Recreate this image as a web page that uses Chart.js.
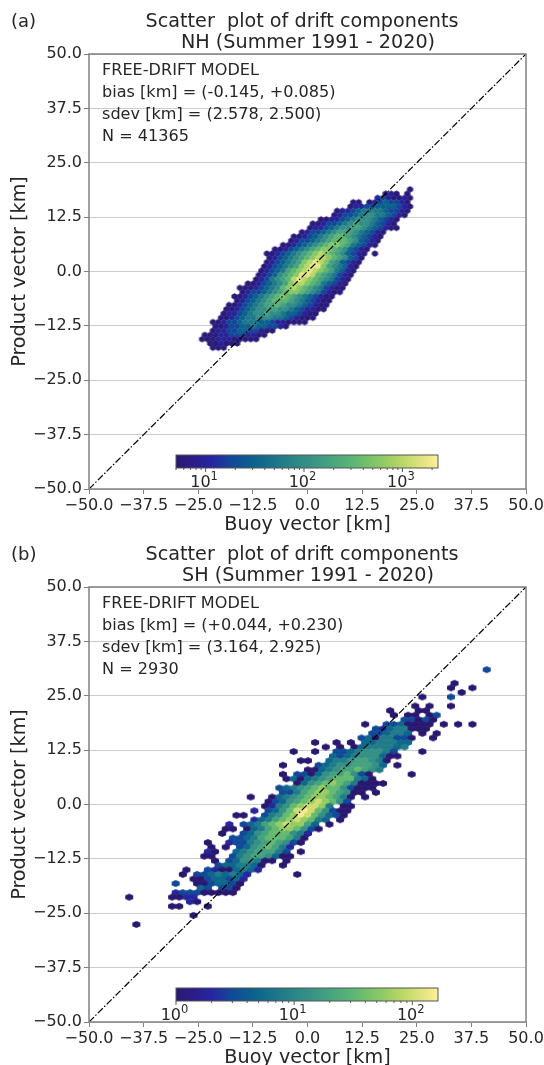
<!DOCTYPE html>
<html>
<head>
<meta charset="utf-8">
<style>
    html, body { margin: 0; background: #fff; overflow: hidden; height: 1065px; }
    canvas { position: absolute; left: 0; }
    #panelA { top: 0; }
    #panelB { top: 533px; }
</style>
<script src="https://cdn.jsdelivr.net/npm/chart.js@4"></script>
</head>
<body>
<canvas id="panelA" width="544" height="545"></canvas>
<canvas id="panelB" width="544" height="545"></canvas>
<script>
const axisTicks = [-50, -37.5, -25, -12.5, 0, 12.5, 25, 37.5, 50];
const diagonalValues = [-50, 50];

// panel a: first column of each hexbin row [km], then the counts along that row
const topRowA = 18.88;
const rowStepA = 0.984;
const colStepA = 1.2357;
const firstXA = [23.46, 17.89, 16.04, 10.48, 9.86, 6.77, 6.16, 3.07, 1.21, 0.59, -1.26, -3.11, -3.73, -5.58, -7.44, -9.29, -8.67, -9.29, -9.91, -10.53, -11.14, -11.76, -13.62, -15.47, -14.85, -16.70, -16.09, -17.94, -18.56, -19.18, -19.79, -21.65, -21.03, -21.65, -23.50, -24.12, -22.27, -21.65];
const countsA = [
    [6],
    [6, 10, 6, 0, 6],
    [10, 18, 10, 6, 6, 10, 6],
    [6, 6, 0, 6, 10, 18, 30, 18, 18, 10, 6],
    [6, 10, 10, 18, 18, 30, 30, 30, 30, 18, 10, 6],
    [6, 10, 10, 18, 30, 55, 55, 55, 55, 30, 18, 18, 10, 6],
    [6, 10, 18, 18, 30, 55, 100, 100, 55, 55, 30, 18, 10, 6],
    [6, 6, 10, 10, 18, 30, 55, 100, 100, 100, 55, 30, 18, 10, 6],
    [6, 6, 10, 18, 18, 30, 55, 100, 180, 100, 100, 55, 30, 18, 10, 6],
    [6, 10, 10, 18, 30, 55, 100, 100, 180, 180, 100, 55, 30, 18, 10, 6, 6],
    [6, 10, 18, 18, 30, 55, 100, 180, 180, 180, 100, 55, 30, 18, 10, 6],
    [6, 6, 10, 18, 30, 55, 100, 180, 320, 320, 180, 100, 55, 30, 18, 10, 6],
    [6, 10, 18, 18, 30, 55, 100, 180, 320, 320, 320, 180, 100, 30, 18, 10, 6],
    [6, 6, 10, 18, 30, 55, 100, 180, 320, 560, 560, 320, 180, 55, 30, 18, 10, 6],
    [6, 6, 10, 18, 30, 55, 100, 180, 320, 560, 560, 320, 180, 100, 30, 18, 10, 6],
    [6, 6, 10, 18, 30, 55, 100, 180, 320, 560, 1000, 560, 320, 180, 100, 30, 18, 10, 6, 0, 6],
    [6, 10, 18, 30, 55, 100, 180, 320, 560, 1000, 1000, 560, 320, 180, 100, 30, 18, 6],
    [6, 10, 18, 30, 55, 100, 180, 560, 1000, 1800, 1000, 560, 180, 100, 30, 18, 10, 6],
    [6, 10, 18, 30, 55, 100, 180, 560, 1000, 1800, 1800, 560, 180, 100, 55, 30, 10, 6],
    [6, 10, 18, 30, 55, 180, 320, 560, 1000, 1800, 1000, 560, 320, 180, 55, 30, 10, 6],
    [6, 10, 18, 30, 100, 180, 320, 560, 1800, 1800, 1000, 320, 180, 100, 55, 18, 10, 6],
    [6, 10, 18, 55, 100, 180, 320, 1000, 1800, 1000, 560, 320, 180, 100, 55, 18, 10, 6],
    [6, 6, 10, 18, 30, 55, 100, 180, 560, 1000, 1000, 560, 320, 180, 55, 30, 18, 10, 6],
    [6, 6, 6, 10, 18, 30, 55, 100, 320, 560, 1000, 560, 320, 180, 100, 55, 18, 10, 6, 6],
    [6, 10, 18, 18, 30, 55, 100, 180, 320, 560, 560, 320, 180, 100, 55, 18, 10, 6, 6],
    [6, 6, 10, 18, 30, 55, 100, 180, 320, 560, 320, 180, 100, 55, 30, 18, 10, 6, 6],
    [6, 10, 18, 30, 55, 100, 180, 320, 320, 320, 180, 100, 55, 30, 18, 10, 6, 6],
    [6, 6, 10, 18, 30, 55, 100, 180, 180, 320, 180, 100, 100, 55, 30, 18, 10, 6, 6],
    [6, 6, 10, 18, 30, 55, 100, 100, 180, 180, 100, 100, 55, 30, 18, 10, 10, 6, 6],
    [6, 10, 10, 18, 30, 55, 100, 100, 180, 100, 100, 55, 30, 30, 18, 10, 6, 6],
    [6, 6, 10, 18, 30, 55, 55, 100, 100, 100, 55, 55, 30, 18, 10, 6, 6, 6],
    [6, 6, 10, 18, 18, 30, 55, 55, 55, 30, 30, 18, 10, 10, 6, 6, 6, 6],
    [6, 6, 10, 18, 18, 30, 30, 55, 30, 30, 18, 18, 10, 6],
    [6, 10, 10, 18, 18, 30, 30, 18, 18, 10, 6, 6],
    [6, 6, 6, 10, 10, 18, 18, 18, 10, 10, 6, 6],
    [6, 6, 6, 10, 10, 10, 6, 6, 6, 6, 6],
    [6, 6, 10, 6, 6, 6],
    [6, 6, 6]
];

// panel b
const topRowB = 31.0;
const rowStepB = 1.046;
const colStepB = 1.636;
const firstXB = [41.01, 0, 0, 33.64, 32.83, 35.28, 26.28, 0, 24.65, 18.92, 19.74, 22.19, 13.19, 15.65, 14.83, 12.37, 1.74, 4.19, -3.17, 5.83, -1.53, -5.62, 0.10, -5.62, -4.81, -2.35, -6.44, -5.62, -12.99, -8.90, -9.71, -12.17, -16.26, -12.17, -17.89, -18.71, -19.53, -17.08, -22.80, -21.99, -22.80, -23.62, -21.17, -20.35, -27.71, -28.53, -26.08, -30.17, -24.44, -30.17, -40.80, -26.89, -31.00, 0, -26.08, 0, -39.16];
const countsB = [
    [3],
    [],
    [],
    [1],
    [1, 0, 0, 1],
    [1],
    [1, 0, 0, 0, 3],
    [],
    [1, 0, 1, 0, 0, 1],
    [1, 0, 0, 0, 1, 1],
    [1, 0, 1, 1, 0, 1, 3],
    [3, 3, 1, 3, 1],
    [1, 0, 0, 3, 3, 5, 1, 1, 1, 1, 0, 1, 0, 1, 0, 1],
    [3, 2, 5, 8, 8, 1, 1, 1],
    [3, 3, 5, 8, 8, 5, 0, 1, 0, 1],
    [3, 5, 1, 8, 8, 3, 3, 1, 0, 0, 1],
    [1, 0, 0, 1, 0, 1, 0, 5, 5, 8, 8, 8, 5, 5],
    [1, 0, 1, 0, 1, 5, 8, 8, 8, 8, 5, 8],
    [1, 0, 0, 1, 0, 0, 3, 3, 5, 8, 13, 13, 13, 8, 3, 0, 0, 0, 1],
    [5, 3, 5, 8, 13, 13, 13, 5, 1, 1],
    [1, 1, 0, 0, 5, 8, 8, 13, 20, 20, 13, 8, 1],
    [1, 0, 0, 0, 0, 3, 5, 8, 13, 13, 20, 20, 20, 13, 5, 0, 1],
    [1, 1, 5, 8, 13, 20, 20, 35, 20, 13, 8],
    [1, 0, 3, 3, 1, 5, 13, 20, 20, 35, 13, 3, 1, 0, 0, 0, 0, 0, 1],
    [1, 5, 1, 5, 8, 13, 20, 35, 35, 35, 8, 5, 1],
    [1, 5, 13, 20, 35, 60, 35, 20, 8, 1, 1, 1, 1],
    [3, 5, 8, 13, 20, 35, 60, 35, 35, 13, 3, 1, 1, 1],
    [3, 3, 8, 20, 35, 60, 60, 35, 20, 13, 1, 1, 0, 1],
    [1, 0, 0, 1, 5, 8, 13, 20, 35, 60, 60, 35, 20, 8, 1, 0, 1],
    [1, 3, 5, 13, 20, 35, 60, 100, 60, 35, 13, 3],
    [1, 2, 8, 13, 35, 60, 100, 100, 60, 8, 0, 1, 1],
    [2, 0, 3, 5, 13, 35, 100, 150, 100, 35, 13, 3, 1, 1],
    [1, 1, 0, 0, 3, 8, 13, 35, 60, 150, 100, 35, 13, 5, 3, 1],
    [2, 5, 8, 20, 35, 60, 100, 60, 35, 8, 5, 0, 1],
    [2, 0, 3, 5, 8, 20, 35, 60, 100, 60, 60, 20, 5, 0, 1],
    [1, 1, 0, 1, 5, 8, 20, 35, 60, 60, 35, 13, 3, 1],
    [1, 0, 0, 3, 5, 13, 20, 35, 35, 35, 13, 8, 2],
    [3, 3, 5, 8, 20, 35, 35, 35, 20, 8, 1],
    [1, 0, 0, 2, 3, 3, 8, 13, 20, 35, 20, 13, 3, 1],
    [1, 0, 1, 0, 3, 5, 13, 20, 35, 20, 8, 2],
    [2, 1, 0, 0, 5, 8, 13, 20, 20, 20, 8, 3, 0, 1],
    [1, 1, 0, 0, 3, 8, 13, 20, 20, 13, 5, 1, 1],
    [1, 0, 3, 5, 13, 13, 8, 1, 1, 0, 1],
    [3, 5, 5, 8, 8, 5, 1, 0, 0, 1],
    [1, 0, 0, 3, 2, 1, 1, 5, 8, 5, 2],
    [1, 0, 3, 3, 5, 8, 5, 8, 5, 2, 0, 0, 0, 0, 0, 0, 1],
    [1, 1, 3, 5, 5, 3, 5, 2],
    [3, 0, 0, 1, 1, 3, 5, 5, 3, 1],
    [5, 3, 0, 3, 3, 1],
    [2, 3, 3, 3, 1, 1, 1, 1, 1],
    [1, 0, 0, 0, 0, 0, 1, 1, 2, 2],
    [2, 1],
    [1, 1, 0, 0, 0, 1],
    [],
    [1],
    [],
    [1]
];

const minCountA = 5;
const maxCountA = 2300;
const minCountB = 1;
const maxCountB = 165;
const colorbarDecadesA = [10, 100, 1000];
const colorbarDecadesB = [1, 10, 100];

const colormap = [
    [0.00, 42, 24, 112], [0.08, 43, 31, 142], [0.14, 38, 38, 160], [0.22, 16, 76, 151],
    [0.30, 11, 100, 140], [0.40, 31, 122, 138], [0.50, 53, 144, 133], [0.60, 72, 165, 126],
    [0.70, 101, 187, 111], [0.80, 149, 205, 99], [0.90, 207, 220, 110], [1.00, 253, 239, 154]
];

function colorAt(t) {
    t = Math.min(1, Math.max(0, t));
    for (let i = 1; i < colormap.length; i++) {
        if (t <= colormap[i][0]) {
            const a = colormap[i - 1];
            const b = colormap[i];
            const f = (t - a[0]) / (b[0] - a[0]);
            return `rgb(${[1, 2, 3].map(k => Math.round(a[k] + (b[k] - a[k]) * f)).join(',')})`;
        }
    }
    return 'rgb(253,239,154)';
}

const sprites = {};
function hexSprite(color, w, h) {
    const key = color + w;
    if (!sprites[key]) {
        const c = document.createElement('canvas');
        c.width = Math.ceil(w) + 2;
        c.height = Math.ceil(h) + 2;
        const g = c.getContext('2d');
        const cx = c.width / 2;
        const cy = c.height / 2;
        g.fillStyle = color;
        g.beginPath();
        g.moveTo(cx, cy - h / 2);
        g.lineTo(cx + w / 2, cy - h / 4);
        g.lineTo(cx + w / 2, cy + h / 4);
        g.lineTo(cx, cy + h / 2);
        g.lineTo(cx - w / 2, cy + h / 4);
        g.lineTo(cx - w / 2, cy - h / 4);
        g.closePath();
        g.fill();
        sprites[key] = c;
    }
    return sprites[key];
}

function hexPoints(firstX, counts, topRow, rowStep, colStep) {
    const points = [];
    counts.forEach((row, r) => {
        row.forEach((count, i) => {
            if (count > 0) {
                points.push({ x: firstX[r] + i * colStep, y: topRow - r * rowStep, v: count });
            }
        });
    });
    return points;
}

function formatTick(v) {
    return v.toFixed(1).replace('-', '\u2212');
}

const fontName = '"DejaVu Sans"';
const textColor = '#262626';
const frameColor = '#808080';

function fixAxisBox(s, size) {
    // las etiquetas de los extremos no deben encoger el área del gráfico
    if (s.isHorizontal()) s.height = size; else s.width = size;
    s.paddingLeft = s.paddingRight = s.paddingTop = s.paddingBottom = 0;
}

function makePanel(id, cfg) {
    const logRange = Math.log10(cfg.vmax / cfg.vmin);
    const cbLeft = 176, cbRight = 438, cbTop = 455, cbBottom = 468;
    const cbX = v => cbLeft + (cbRight - cbLeft) * Math.log10(v / cfg.vmin) / logRange;

    const panelDecor = {
        id: 'panelDecor',
        afterDraw(chart) {
            const { ctx, chartArea: { left, right, top, bottom } } = chart;
            ctx.save();

            // marco de los ejes
            ctx.strokeStyle = frameColor;
            ctx.lineWidth = 1.5;
            ctx.strokeRect(left, top, right - left, bottom - top);

            ctx.fillStyle = textColor;
            ctx.textBaseline = 'alphabetic';

            ctx.textAlign = 'left';
            ctx.font = `18px ${fontName}`;
            ctx.fillText(cfg.tag, 11, 27);

            ctx.textAlign = 'center';
            ctx.font = `19.2px ${fontName}`;
            ctx.fillText('Scatter  plot of drift components', 302, 27);
            ctx.fillText(cfg.subtitle, 308, 48);

            ctx.textAlign = 'left';
            ctx.font = `16.1px ${fontName}`;
            cfg.notes.forEach((line, i) => ctx.fillText(line, 102, 75 + i * 22));

            // colorbar
            const grad = ctx.createLinearGradient(cbLeft, 0, cbRight, 0);
            for (let i = 0; i <= 50; i++) grad.addColorStop(i / 50, colorAt(i / 50));
            ctx.fillStyle = grad;
            ctx.fillRect(cbLeft, cbTop, cbRight - cbLeft, cbBottom - cbTop);
            ctx.strokeStyle = '#555';
            ctx.lineWidth = 1;
            ctx.strokeRect(cbLeft, cbTop, cbRight - cbLeft, cbBottom - cbTop);

            for (let e = -1; e < 4; e++) {
                for (let m = 1; m < 10; m++) {
                    const v = m * Math.pow(10, e);
                    if (v < cfg.vmin || v > cfg.vmax) continue;
                    const x = cbX(v);
                    ctx.beginPath();
                    ctx.moveTo(x, cbBottom);
                    ctx.lineTo(x, cbBottom + (m === 1 ? 4 : 2));
                    ctx.stroke();
                }
            }

            ctx.fillStyle = textColor;
            cfg.decades.forEach(v => {
                const x = cbX(v);
                const exp = String(Math.round(Math.log10(v)));
                ctx.textAlign = 'right';
                ctx.font = `16px ${fontName}`;
                ctx.fillText('10', x + 5, 487);
                ctx.textAlign = 'left';
                ctx.font = `11.5px ${fontName}`;
                ctx.fillText(exp, x + 5, 480);
            });
            ctx.restore();
        }
    };

    new Chart(document.getElementById(id).getContext('2d'), {
        type: 'scatter',
        plugins: [panelDecor],
        data: {
            datasets: [
                {
                    type: 'line',
                    data: diagonalValues.map(v => ({ x: v, y: v })),
                    borderColor: '#000',
                    borderWidth: 1.2,
                    borderDash: [7, 2, 1.5, 2],
                    pointRadius: 0,
                    fill: false
                },
                {
                    data: hexPoints(cfg.firstX, cfg.counts, cfg.topRow, cfg.rowStep, cfg.colStep),
                    pointRadius: 3,
                    pointStyle: c => {
                        if (!c.raw) return 'circle';
                        const t = Math.log10(c.raw.v / cfg.vmin) / logRange;
                        return hexSprite(colorAt(t), cfg.hexW, cfg.hexH);
                    }
                }
            ]
        },
        options: {
            responsive: false,
            animation: false,
            layout: { padding: { top: 54, right: 18 } },
            plugins: {
                legend: { display: false },
                tooltip: { enabled: false }
            },
            scales: {
                x: {
                    type: 'linear',
                    min: -50,
                    max: 50,
                    afterBuildTicks: s => { s.ticks = axisTicks.map(v => ({ value: v })); },
                    afterFit: s => fixAxisBox(s, 56),
                    ticks: {
                        autoSkip: false,
                        maxRotation: 0,
                        padding: 2,
                        color: textColor,
                        font: { family: fontName, size: 16 },
                        callback: formatTick
                    },
                    grid: {
                        drawOnChartArea: false,
                        tickLength: 5,
                        tickColor: frameColor
                    },
                    border: { display: false },
                    title: {
                        display: true,
                        text: 'Buoy vector [km]',
                        color: textColor,
                        padding: { top: 0, bottom: 8 },
                        font: { family: fontName, size: 19.2 }
                    }
                },
                y: {
                    type: 'linear',
                    min: -50,
                    max: 50,
                    afterBuildTicks: s => { s.ticks = axisTicks.map(v => ({ value: v })); },
                    afterFit: s => fixAxisBox(s, 89),
                    ticks: {
                        autoSkip: false,
                        padding: 2,
                        color: textColor,
                        font: { family: fontName, size: 16 },
                        callback: formatTick
                    },
                    grid: {
                        color: '#cccccc',
                        lineWidth: 1,
                        tickLength: 5,
                        tickColor: frameColor
                    },
                    border: { display: false },
                    title: {
                        display: true,
                        text: 'Product vector [km]',
                        color: textColor,
                        padding: { top: 8, bottom: 0 },
                        font: { family: fontName, size: 19.2 }
                    }
                }
            }
        }
    });
}

makePanel('panelA', {
    tag: '(a)',
    subtitle: 'NH (Summer 1991 - 2020)',
    notes: ['FREE-DRIFT MODEL', 'bias [km] = (-0.145, +0.085)', 'sdev [km] = (2.578, 2.500)', 'N = 41365'],
    firstX: firstXA, counts: countsA,
    topRow: topRowA, rowStep: rowStepA, colStep: colStepA,
    hexW: 6.2, hexH: 6.4,
    vmin: minCountA, vmax: maxCountA, decades: colorbarDecadesA
});

makePanel('panelB', {
    tag: '(b)',
    subtitle: 'SH (Summer 1991 - 2020)',
    notes: ['FREE-DRIFT MODEL', 'bias [km] = (+0.044, +0.230)', 'sdev [km] = (3.164, 2.925)', 'N = 2930'],
    firstX: firstXB, counts: countsB,
    topRow: topRowB, rowStep: rowStepB, colStep: colStepB,
    hexW: 8, hexH: 7,
    vmin: minCountB, vmax: maxCountB, decades: colorbarDecadesB
});
</script>
</body>
</html>
